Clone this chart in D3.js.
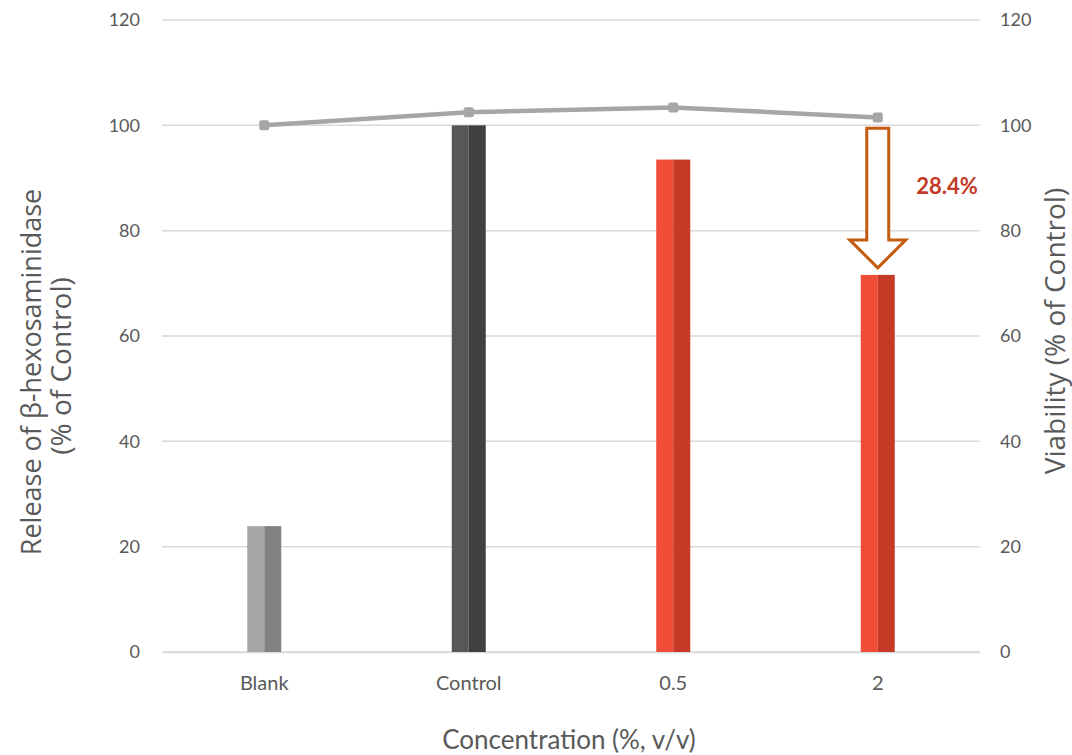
<!DOCTYPE html>
<html><head><meta charset="utf-8">
<script src="https://cdn.jsdelivr.net/npm/d3@7"></script>
<style>body{margin:0;background:#fff}svg{display:block}text{font-family:Lato,"Open Sans",sans-serif}</style>
</head><body><svg id="c" width="1072" height="755"></svg>
<script>
const categories = ["Blank","Control","0.5","2"];
const releaseValues = [23.9, 100, 93.5, 71.6];
const viabilityValues = [100, 102.5, 103.4, 101.5];
const leftTicks = [0,20,40,60,80,100,120];
const rightTicks = [0,20,40,60,80,100,120];
const annotationText = "28.4%";
const barColorsLight = ["#a6a6a6","#575757","#f04e37","#f04e37"];
const barColorsDark = ["#828282","#404040","#c43a27","#c43a27"];

(function(){
const svg = d3.select("#c");
const m = {l:162, r:980, t:20, b:652};
const x = d3.scaleBand().domain(categories).range([m.l,m.r]);
const y = d3.scaleLinear().domain([0,120]).range([m.b,m.t]);
const y2 = d3.scaleLinear().domain([0,120]).range([m.b,m.t]);

svg.append("g").selectAll("line").data(leftTicks).join("line")
  .attr("x1",m.l).attr("x2",m.r).attr("y1",d=>y(d)).attr("y2",d=>y(d))
  .attr("stroke","#d9d9d9").attr("stroke-width",1.5);

const la = svg.append("g").attr("transform",`translate(${m.l},0)`)
  .call(d3.axisLeft(y).tickValues(leftTicks).tickSize(0).tickPadding(22));
la.select(".domain").remove();
la.selectAll("text").attr("fill","#595959").style("font-size","18px").style("font-family","Lato,sans-serif");

const ra = svg.append("g").attr("transform",`translate(${m.r},0)`)
  .call(d3.axisRight(y2).tickValues(rightTicks).tickSize(0).tickPadding(20));
ra.select(".domain").remove();
ra.selectAll("text").attr("fill","#595959").style("font-size","18px").style("font-family","Lato,sans-serif");

const ba = svg.append("g").attr("transform",`translate(0,${m.b})`)
  .call(d3.axisBottom(x).tickSize(0).tickPadding(24));
ba.select(".domain").attr("stroke","#d9d9d9").attr("stroke-width",1.5);
ba.selectAll("text").attr("fill","#595959").style("font-size","20px").style("font-family","Lato,sans-serif");

const bw = 34;
const bars = svg.append("g");
categories.forEach((c,i)=>{
  const cx = x(c)+x.bandwidth()/2;
  bars.append("rect").attr("x",cx-bw/2).attr("width",bw/2).attr("y",y(releaseValues[i])).attr("height",y(0)-y(releaseValues[i])).attr("fill",barColorsLight[i]);
  bars.append("rect").attr("x",cx).attr("width",bw/2).attr("y",y(releaseValues[i])).attr("height",y(0)-y(releaseValues[i])).attr("fill",barColorsDark[i]);
});

const line = d3.line().x((d,i)=>x(categories[i])+x.bandwidth()/2).y(d=>y2(d));
svg.append("path").datum(viabilityValues).attr("d",line).attr("fill","none").attr("stroke","#a6a6a6").attr("stroke-width",4.5);
svg.append("g").selectAll("rect").data(viabilityValues).join("rect")
  .attr("x",(d,i)=>x(categories[i])+x.bandwidth()/2-5).attr("y",d=>y2(d)-5).attr("width",10).attr("height",10)
  .attr("rx",2).attr("fill","#a6a6a6");

const ac = x("2")+x.bandwidth()/2;
const aTop = y(100)+3, tip = y(releaseValues[3])-7, headTop = tip-28;
const sw = 11, hw = 28;
const pts = [[ac-sw,aTop],[ac+sw,aTop],[ac+sw,headTop],[ac+hw,headTop],[ac,tip],[ac-hw,headTop],[ac-sw,headTop]];
svg.append("polygon").attr("points",pts.map(p=>p.join(",")).join(" "))
  .attr("fill","#fff").attr("stroke","#c55a11").attr("stroke-width",3).attr("stroke-linejoin","miter");
svg.append("text").attr("x",947).attr("y",194).attr("text-anchor","middle")
  .attr("fill","#c43a27").style("font-size","22px").style("font-weight","bold").text(annotationText);

svg.append("text").attr("transform","translate(41,372) rotate(-90)").attr("text-anchor","middle")
  .attr("fill","#595959").style("font-size","27px").style("font-family","'Open Sans',sans-serif").text("Release of β-hexosaminidase");
svg.append("text").attr("transform","translate(71,366) rotate(-90)").attr("text-anchor","middle")
  .attr("fill","#595959").style("font-size","28px").style("font-family","'Open Sans',sans-serif").text("(% of Control)");
svg.append("text").attr("transform","translate(1065,331) rotate(-90)").attr("text-anchor","middle")
  .attr("fill","#595959").style("font-size","28px").style("font-family","'Open Sans',sans-serif").text("Viability (% of Control)");
svg.append("text").attr("x",569).attr("y",749).attr("text-anchor","middle")
  .attr("fill","#595959").style("font-size","26px").text("Concentration (%, v/v)");
})();
</script></body></html>
